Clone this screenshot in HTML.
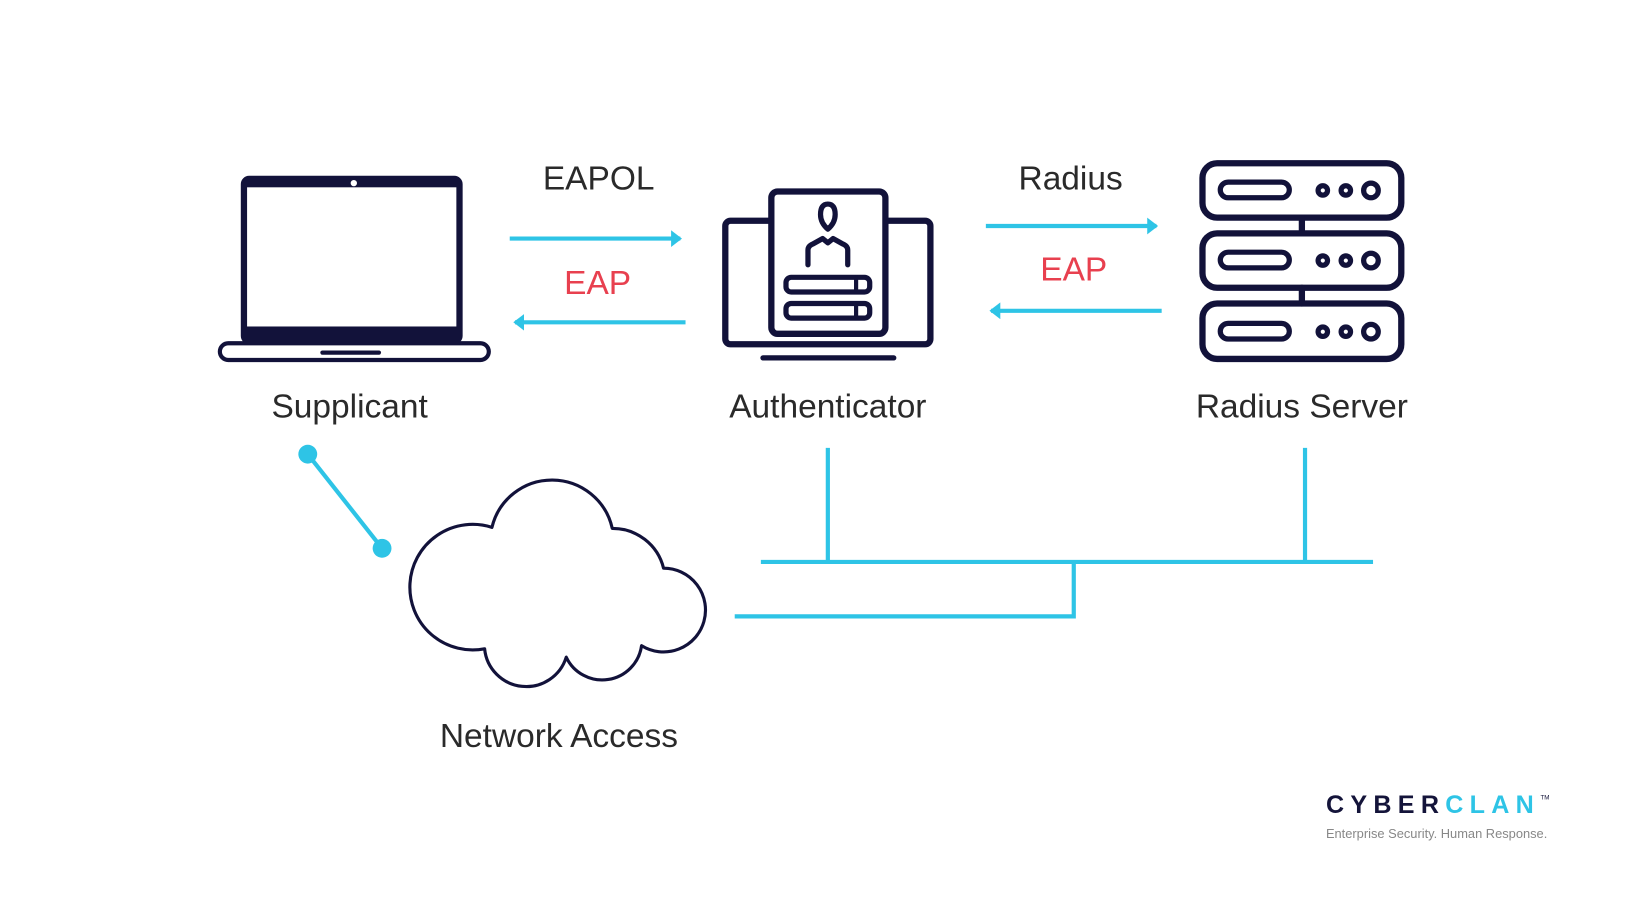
<!DOCTYPE html>
<html><head><meta charset="utf-8"><style>
html,body{margin:0;padding:0;background:#fff;}
svg{display:block;}
text{font-family:"Liberation Sans",sans-serif;}
</style></head><body>
<svg width="1640" height="924" viewBox="0 0 1567 883" xmlns="http://www.w3.org/2000/svg">
<defs>
<marker id="ah" markerWidth="4" markerHeight="4" refX="2.2" refY="2" orient="auto" markerUnits="strokeWidth">
<path d="M0,0 L2.6,2 L0,4 Z" fill="#2ec4e6"/>
</marker>
</defs>
<rect width="1567" height="883" fill="#fff"/>
<g fill="none" stroke="#12123a" stroke-linecap="round" stroke-linejoin="round">
<!-- Laptop -->
<rect x="233" y="171" width="206" height="155" rx="5" stroke-width="6"/>
<rect x="233" y="171" width="206" height="8" fill="#12123a" stroke="none"/>
<rect x="233" y="312" width="206" height="16" fill="#12123a" stroke="none"/>
<rect x="210" y="328" width="257" height="16" rx="8" stroke-width="4"/>
<line x1="308" y1="337" x2="362" y2="337" stroke-width="4"/>
<!-- Authenticator -->
<rect x="693" y="211" width="196" height="118" rx="5" stroke-width="6"/>
<rect x="737" y="183" width="109" height="136" rx="6" stroke-width="6" fill="#fff"/>
<path d="M784,205 q0,-10 7,-10 q7,0 7,10 q0,8 -7,14 q-7,-6 -7,-14z" stroke-width="5"/>
<path d="M772,253 v-14 q0,-4 5,-6 l9,-5 l5,4 l5,-4 l9,5 q5,2 5,6 v14" stroke-width="5"/>
<rect x="751" y="265" width="80" height="14" rx="5" stroke-width="5"/>
<line x1="818" y1="265" x2="818" y2="279" stroke-width="4"/>
<rect x="751" y="290" width="80" height="14" rx="5" stroke-width="5"/>
<line x1="818" y1="290" x2="818" y2="304" stroke-width="4"/>
<line x1="729" y1="342" x2="854" y2="342" stroke-width="5"/>
<!-- Server -->
<rect x="1149" y="156" width="190" height="52" rx="14" stroke-width="6"/>
<rect x="1149" y="223" width="190" height="52" rx="14" stroke-width="6"/>
<rect x="1149" y="290" width="190" height="53" rx="14" stroke-width="6"/>
<line x1="1244" y1="208" x2="1244" y2="223" stroke-width="6"/>
<line x1="1244" y1="275" x2="1244" y2="290" stroke-width="6"/>
<g stroke-width="5">
<rect x="1166" y="174" width="66" height="15" rx="7.5"/>
<rect x="1166" y="241" width="66" height="15" rx="7.5"/>
<rect x="1166" y="309" width="66" height="15" rx="7.5"/>
<circle cx="1264" cy="182" r="4.5"/><circle cx="1286" cy="182" r="4.5"/><circle cx="1310" cy="182" r="7"/>
<circle cx="1264" cy="249" r="4.5"/><circle cx="1286" cy="249" r="4.5"/><circle cx="1310" cy="249" r="7"/>
<circle cx="1264" cy="317" r="4.5"/><circle cx="1286" cy="317" r="4.5"/><circle cx="1310" cy="317" r="7"/>
</g>
<!-- Cloud -->
<path transform="translate(7,0)" d="M456,620 A60 60 0 1 1 463,504 A59 59 0 0 1 578,505 A50 50 0 0 1 627,543 A40 40 0 1 1 606,617 A38 38 0 0 1 534,628 A40 40 0 0 1 456,620 Z" stroke-width="3"/>
</g>
<circle cx="338" cy="175" r="3" fill="#fff"/>
<!-- Arrows -->
<g stroke="#2ec4e6" stroke-width="4" fill="none">
<line x1="487" y1="228" x2="650" y2="228" marker-end="url(#ah)"/>
<line x1="655" y1="308" x2="492" y2="308" marker-end="url(#ah)"/>
<line x1="942" y1="216" x2="1105" y2="216" marker-end="url(#ah)"/>
<line x1="1110" y1="297" x2="947" y2="297" marker-end="url(#ah)"/>
<line x1="294" y1="434" x2="365" y2="524"/>
<line x1="791" y1="428" x2="791" y2="537"/>
<line x1="1247" y1="428" x2="1247" y2="537"/>
<line x1="727" y1="537" x2="1312" y2="537"/>
<polyline points="1026,537 1026,589 702,589"/>
</g>
<circle cx="294" cy="434" r="9" fill="#2ec4e6"/>
<circle cx="365" cy="524" r="9" fill="#2ec4e6"/>
<!-- Labels -->
<g font-size="32" fill="#2a2a2a" text-anchor="middle">
<text x="572" y="181">EAPOL</text>
<text x="571" y="281" fill="#e8404f">EAP</text>
<text x="1023" y="181">Radius</text>
<text x="1026" y="268" fill="#e8404f">EAP</text>
<text x="334" y="399">Supplicant</text>
<text x="791" y="399">Authenticator</text>
<text x="1244" y="399">Radius Server</text>
<text x="534" y="714">Network Access</text>
</g>
<text x="1267" y="777" font-size="24" font-weight="bold" letter-spacing="6"><tspan fill="#14143a">CYBER</tspan><tspan fill="#2ec4e6">CLAN</tspan></text>
<text x="1472" y="764" font-size="6" fill="#14143a">TM</text>
<text x="1267" y="801" font-size="12.3" fill="#888">Enterprise Security. Human Response.</text>
</svg>
</body></html>
